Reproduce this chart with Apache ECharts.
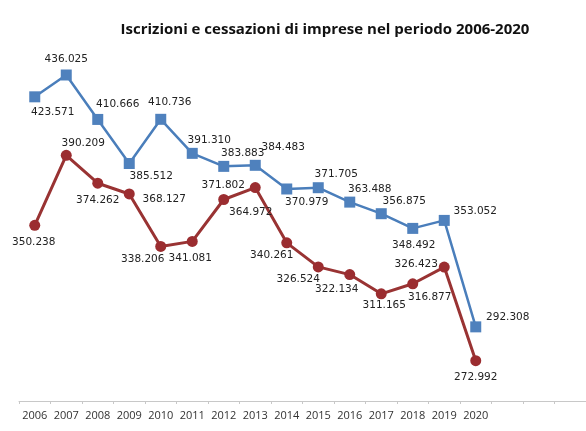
<!DOCTYPE html>
<html>
<head>
<meta charset="utf-8">
<script src="https://cdn.jsdelivr.net/npm/echarts@6/dist/echarts.min.js"></script>
<style>
  html, body { margin: 0; padding: 0; background: #fff; }
  #main { width: 586px; height: 431px; }
</style>
</head>
<body>
<div id="main"></div>
<script>
// anni (le ultime categorie sono vuote, come nel grafico originale)
const years = ['2006','2007','2008','2009','2010','2011','2012','2013','2014','2015','2016','2017','2018','2019','2020','','',''];
// iscrizioni (migliaia)
const iscrizioni = [423.571, 436.025, 410.666, 385.512, 410.736, 391.310, 383.883, 384.483, 370.979, 371.705, 363.488, 356.875, 348.492, 353.052, 292.308];
// cessazioni (migliaia)
const cessazioni = [350.238, 390.209, 374.262, 368.127, 338.206, 341.081, 364.972, 371.802, 340.261, 326.524, 322.134, 311.165, 316.877, 326.423, 272.992];

// spostamento etichette rispetto al punto [dx, dy]
const offBlue = [[18,15],[0,-16],[20,-15],[22,13],[9,-17],[17,-13],[19,-13],[28,-18],[20,13],[18,-13],[20,-13],[23,-12],[1,17],[31,-9],[32,-10]];
const offRed  = [[-1,17],[17,-12],[0,17],[35,5],[-18,13],[-2,17],[27,13],[-32,-2],[-15,12],[-20,12],[-13,15],[3,11],[17,13],[-28,-3],[0,17]];

function withLabels(vals, offs) {
  return vals.map((v, i) => ({
    value: v,
    label: { offset: offs[i] }
  }));
}

const chart = echarts.init(document.getElementById('main'));
chart.setOption({
  animation: false,
  title: {
    text: 'Iscrizioni e cessazioni di imprese nel periodo 2006-2020',
    left: 320,
    textAlign: 'center',
    top: 17,
    textStyle: { fontFamily: 'Open Sans', fontWeight: 'bold', fontSize: 15, color: '#111' }
  },
  grid: { left: 19, top: 50.5, width: 577, height: 350.5 },
  xAxis: {
    type: 'category',
    data: years,
    boundaryGap: true,
    axisLine: { lineStyle: { color: '#c8c8c8', width: 1 } },
    axisTick: { show: true, length: 3, lineStyle: { color: '#c8c8c8' } },
    axisLabel: { fontFamily: 'Open Sans', fontSize: 11, color: '#333', margin: 9, interval: 0 }
  },
  yAxis: {
    type: 'value',
    min: 250,
    max: 450,
    show: false
  },
  series: [
    {
      name: 'Iscrizioni',
      type: 'line',
      data: withLabels(iscrizioni, offBlue),
      symbol: 'rect',
      symbolSize: 11,
      lineStyle: { color: '#4A7EBB', width: 2.5 },
      itemStyle: { color: '#4F81BD' },
      label: {
        show: true,
        position: 'inside',
        fontFamily: 'DejaVu Sans',
        fontSize: 10.5,
        color: '#222',
        formatter: p => p.value.toFixed(3)
      },
      z: 3
    },
    {
      name: 'Cessazioni',
      type: 'line',
      data: withLabels(cessazioni, offRed),
      symbol: 'circle',
      symbolSize: 11,
      lineStyle: { color: '#993333', width: 3 },
      itemStyle: { color: '#9B2D30' },
      label: {
        show: true,
        position: 'inside',
        fontFamily: 'DejaVu Sans',
        fontSize: 10.5,
        color: '#222',
        formatter: p => p.value.toFixed(3)
      },
      z: 2
    }
  ]
});
</script>
</body>
</html>
